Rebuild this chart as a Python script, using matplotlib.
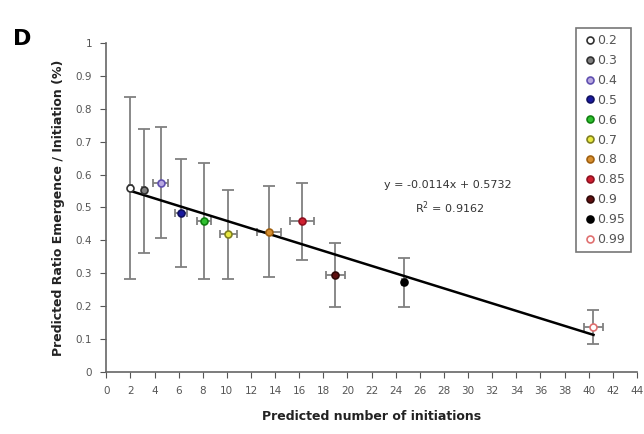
import numpy as np
import matplotlib.pyplot as plt

# valores
labels = ["0.2", "0.3", "0.4", "0.5", "0.6", "0.7", "0.8", "0.85", "0.9", "0.95", "0.99"]
x_vals = [2.0, 3.1, 4.5, 6.2, 8.1, 10.1, 13.5, 16.2, 19.0, 24.7, 40.4]
y_vals = [0.559, 0.554, 0.574, 0.483, 0.458, 0.419, 0.426, 0.459, 0.295, 0.274, 0.137]
y_top = [0.837, 0.739, 0.745, 0.647, 0.635, 0.553, 0.565, 0.575, 0.392, 0.347, 0.188]
y_bot = [0.283, 0.362, 0.407, 0.319, 0.282, 0.283, 0.289, 0.340, 0.198, 0.198, 0.085]
x_err = [0.15, 0.15, 0.6, 0.5, 0.6, 0.7, 1.0, 1.0, 0.8, 0.15, 0.8]

face_colors = ["white", "#808080", "#b8a8e0", "#1a1aa0", "#30c030", "#e8e840",
               "#d89030", "#d02030", "#601010", "black", "white"]
edge_colors = ["#303030", "#303030", "#6050b0", "#101060", "#108010", "#808020",
               "#a06010", "#901020", "#300808", "black", "#e07070"]

slope = -0.0114
intercept = 0.5732

fig = plt.figure(figsize=(6.44, 4.34), dpi=100)
ax = fig.add_axes([0.165, 0.143, 0.824, 0.758])

# linha de regressao
xl = np.array([x_vals[0], x_vals[-1]])
ax.plot(xl, slope * xl + intercept, color="black", lw=1.8, zorder=2)

# pontos com barras de erro
for i in range(len(labels)):
    yerr = [[y_vals[i] - y_bot[i]], [y_top[i] - y_vals[i]]]
    ax.errorbar(x_vals[i], y_vals[i], yerr=yerr, fmt="none",
                ecolor="#808080", elinewidth=1.3, capsize=4, capthick=1.3, zorder=1)
    ax.errorbar(x_vals[i], y_vals[i], xerr=x_err[i], fmt="none",
                ecolor="#808080", elinewidth=1.3, capsize=3, capthick=1.3, zorder=1)
    ax.plot(x_vals[i], y_vals[i], "o", ms=5, mfc=face_colors[i], mec=edge_colors[i],
            mew=1.2, label=labels[i], zorder=3, linestyle="none")

ax.text(28.3, 0.568, "y = -0.0114x + 0.5732", fontsize=8, color="#333333", ha="center", va="center")
ax.text(28.5, 0.498, "R$^2$ = 0.9162", fontsize=8, color="#333333", ha="center", va="center")

ax.set_xlim(0, 44)
ax.set_ylim(0, 1)
ax.set_xticks(np.arange(0, 45, 2))
ax.set_yticks(np.arange(0, 1.01, 0.1))
ax.set_yticklabels(["0", "0.1", "0.2", "0.3", "0.4", "0.5", "0.6", "0.7", "0.8", "0.9", "1"])
ax.tick_params(direction="out", length=4, pad=6, labelsize=7.5, labelcolor="#555555", color="#555555")
for s in ["top", "right"]:
    ax.spines[s].set_visible(False)
for s in ["left", "bottom"]:
    ax.spines[s].set_color("#666666")
    ax.spines[s].set_linewidth(1.2)

ax.set_xlabel("Predicted number of initiations", fontsize=9, fontweight="bold", color="#222222", labelpad=10)
ax.set_ylabel("Predicted Ratio Emergence / Initiation (%)", fontsize=9, fontweight="bold", color="#222222", labelpad=8)

fig.text(0.02, 0.91, "D", fontsize=16, fontweight="bold", va="center")

leg = fig.legend(loc="upper right", bbox_to_anchor=(0.99, 0.95), fontsize=9, handletextpad=0.0,
                 handlelength=1.2, labelspacing=0.55, borderpad=0.5, fancybox=False,
                 edgecolor="#555555", labelcolor="#555555")
leg.get_frame().set_linewidth(1.2)

plt.savefig("out.png", dpi=100)
